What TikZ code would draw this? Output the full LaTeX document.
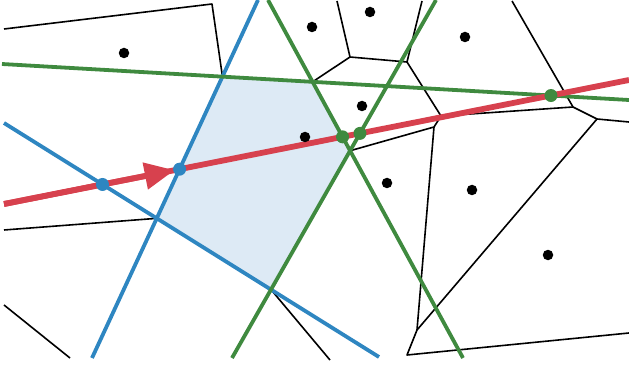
\documentclass[tikz,border=0pt]{standalone}
\usepackage{tikz}
\usepackage{xcolor}
\usetikzlibrary{arrows.meta}
\definecolor{cellblue}{HTML}{2E86C1}
\definecolor{cellgreen}{HTML}{3F8A3F}
\definecolor{rayred}{HTML}{D7414E}
\definecolor{cellshade}{HTML}{DDEAF5}

\begin{document}
\begin{tikzpicture}[
  x=1pt, y=-1pt,
  celledge/.style={line width=1.6pt, black, line join=round},
  blueline/.style={line width=3.8pt, cellblue},
  greenline/.style={line width=3.8pt, cellgreen},
  rayline/.style={line width=5.8pt, rayred},
  raytip/.style={-{Triangle[length=30pt, width=26pt]}, line width=5.8pt, rayred, shorten >=5pt},
  site/.style={circle, fill=black, inner sep=0pt, minimum size=10.5pt},
  bluehit/.style={circle, fill=cellblue, inner sep=0pt, minimum size=13pt},
  greenhit/.style={circle, fill=cellgreen, inner sep=0pt, minimum size=13pt}
]
\useasboundingbox (0,0) rectangle (629,366);

%% Line end points
\coordinate (b1a) at (258,0);
\coordinate (b1b) at (92,358);
\coordinate (b2a) at (4,123);
\coordinate (b2b) at (379,357);
\coordinate (g1a) at (2,64);
\coordinate (g1b) at (629,100);
\coordinate (g2a) at (268,0);
\coordinate (g2b) at (463,358);
\coordinate (g3a) at (436,0);
\coordinate (g3b) at (232,358);
\coordinate (ra) at (4,204);
\coordinate (rb) at (629,80);

%% Corners of the shaded cell
\coordinate (p1) at (intersection of b1a--b1b and g1a--g1b);
\coordinate (p2) at (intersection of g1a--g1b and g2a--g2b);
\coordinate (p3) at (intersection of g2a--g2b and g3a--g3b);
\coordinate (p4) at (intersection of g3a--g3b and b2a--b2b);
\coordinate (p5) at (intersection of b2a--b2b and b1a--b1b);

\fill[cellshade] (p1) -- (p2) -- (p3) -- (p4) -- (p5) -- cycle;

%% Voronoi vertices
\coordinate (v1) at (212,4);
\coordinate (v2) at (350,57);
\coordinate (v3) at (407,62);
\coordinate (v4) at (441,116);
\coordinate (v5) at (434,127);
\coordinate (v6) at (573,107);
\coordinate (v7) at (597,119);
\coordinate (v8) at (417,330);
\coordinate (v9) at (407,355);

%% Open ends at the border
\coordinate (e1) at (4,29);
\coordinate (e2) at (337,1);
\coordinate (e3) at (422,1);
\coordinate (e4) at (512,1);
\coordinate (e5) at (629,122);
\coordinate (e6) at (629,333);
\coordinate (e7) at (4,230);
\coordinate (e8) at (4,305);
\coordinate (e9) at (70,358);
\coordinate (e10) at (330,360);

%% Voronoi edges
\draw[celledge] (e1) -- (v1) -- (p1);
\draw[celledge] (e2) -- (v2) -- (v3) -- (e3);
\draw[celledge] (v2) -- (p2);
\draw[celledge] (v3) -- (v4) -- (v6) -- (v7) -- (e5);
\draw[celledge] (e4) -- (v6);
\draw[celledge] (v4) -- (v5) -- (p3);
\draw[celledge] (v5) -- (v8);
\draw[celledge] (v7) -- (v8) -- (v9) -- (e6);
\draw[celledge] (e7) -- (p5);
\draw[celledge] (e8) -- (e9);
\draw[celledge] (p4) -- (e10);

%% Blue and green bisectors
\draw[blueline] (b1a) -- (b1b);
\draw[blueline] (b2a) -- (b2b);
\draw[greenline] (g1a) -- (g1b);
\draw[greenline] (g2a) -- (g2b);
\draw[greenline] (g3a) -- (g3b);

%% Hit points on the ray
\coordinate (hb1) at (intersection of ra--rb and b1a--b1b);
\coordinate (hb2) at (intersection of ra--rb and b2a--b2b);
\coordinate (hg1) at (intersection of ra--rb and g1a--g1b);
\coordinate (hg2) at (intersection of ra--rb and g2a--g2b);
\coordinate (hg3) at (intersection of ra--rb and g3a--g3b);

%% Red ray with its head
\draw[rayline] (ra) -- (rb);
\draw[raytip] (ra) -- (hb1);

\node[bluehit] (dotb1) at (hb1) {};
\node[bluehit] (dotb2) at (hb2) {};
\node[greenhit] (dotg1) at (hg1) {};
\node[greenhit] (dotg2) at (hg2) {};
\node[greenhit] (dotg3) at (hg3) {};

%% Sites
\node[site] (s1) at (124,53) {};
\node[site] (s2) at (312,27) {};
\node[site] (s3) at (370,12) {};
\node[site] (s4) at (465,37) {};
\node[site] (s5) at (362,106) {};
\node[site] (s6) at (305,137) {};
\node[site] (s7) at (387,183) {};
\node[site] (s8) at (472,190) {};
\node[site] (s9) at (548,255) {};

\end{tikzpicture}
\end{document}
